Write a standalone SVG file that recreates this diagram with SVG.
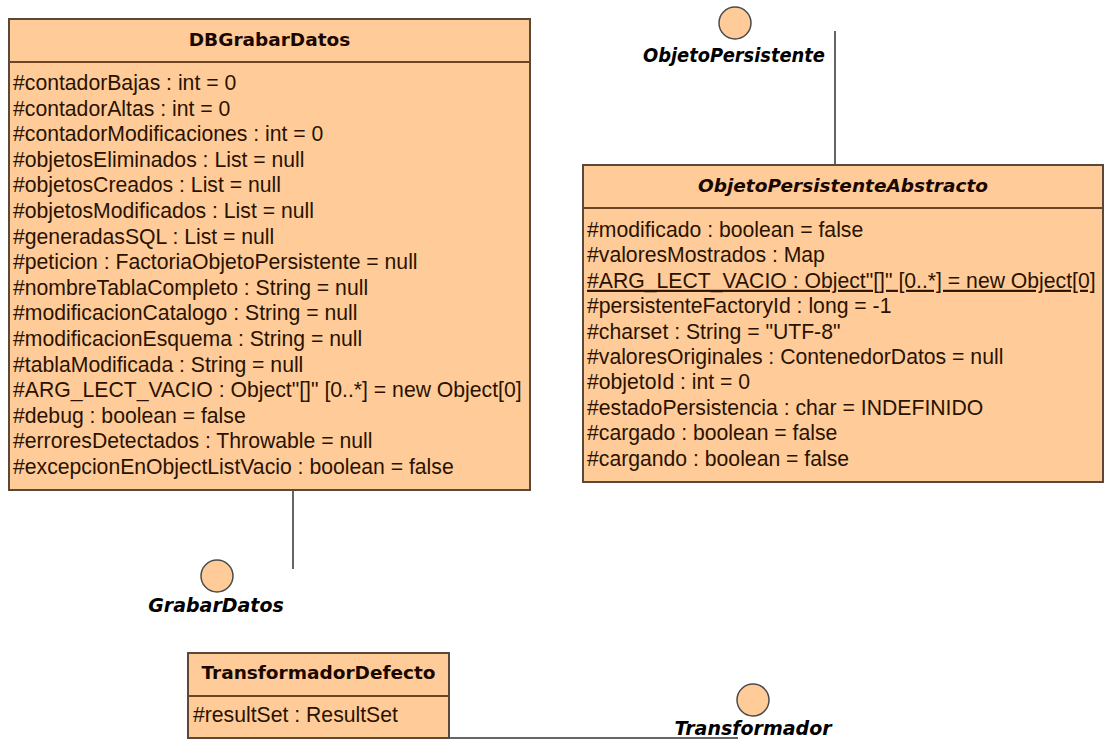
<svg xmlns="http://www.w3.org/2000/svg" width="1107" height="740" viewBox="0 0 1107 740">
  <style>
    .box { fill: #FFCC99; stroke: #5a4838; stroke-width: 2; }
    .sep { stroke: #6b4526; stroke-width: 2; }
    .title { font-family: "DejaVu Sans", sans-serif; font-weight: bold; font-size: 18.5px; fill: #1a0800; text-anchor: middle; }
    .ititle { font-style: italic; }
    .attr { font-family: "Liberation Sans", Arial, sans-serif; font-size: 21.2px; fill: #2a1200; }
    .iface { fill: #FFCC99; stroke: #4a4a4a; stroke-width: 1.5; }
    .ilabel { font-family: "DejaVu Sans", sans-serif; font-weight: bold; font-style: italic; font-size: 19px; fill: #000; text-anchor: middle; }
    .link { stroke: #333; stroke-width: 1.5; fill: none; }
  </style>
  <rect width="1107" height="740" fill="#fff"/>

  <!-- connectors -->
  <g id="connectors">
    <line class="link" x1="293" y1="490" x2="293" y2="569"/>
    <line class="link" x1="835" y1="31" x2="835" y2="165"/>
    <line class="link" x1="449" y1="738" x2="738" y2="738"/>
  </g>

  <!-- class DBGrabarDatos -->
  <g id="DBGrabarDatos">
    <rect class="box" x="9" y="19" width="521" height="471"/>
    <line class="sep" x1="9" y1="62" x2="530" y2="62"/>
    <text class="title" x="269.5" y="46">DBGrabarDatos</text>
    <g class="attr">
      <text x="13" y="90">#contadorBajas : int = 0</text>
      <text x="13" y="115.6">#contadorAltas : int = 0</text>
      <text x="13" y="141.2">#contadorModificaciones : int = 0</text>
      <text x="13" y="166.8">#objetosEliminados : List = null</text>
      <text x="13" y="192.4">#objetosCreados : List = null</text>
      <text x="13" y="218">#objetosModificados : List = null</text>
      <text x="13" y="243.6">#generadasSQL : List = null</text>
      <text x="13" y="269.2">#peticion : FactoriaObjetoPersistente = null</text>
      <text x="13" y="294.8">#nombreTablaCompleto : String = null</text>
      <text x="13" y="320.4">#modificacionCatalogo : String = null</text>
      <text x="13" y="346">#modificacionEsquema : String = null</text>
      <text x="13" y="371.6">#tablaModificada : String = null</text>
      <text x="13" y="397.2">#ARG_LECT_VACIO : Object"[]" [0..*] = new Object[0]</text>
      <text x="13" y="422.8">#debug : boolean = false</text>
      <text x="13" y="448.4">#erroresDetectados : Throwable = null</text>
      <text x="13" y="474">#excepcionEnObjectListVacio : boolean = false</text>
    </g>
  </g>

  <!-- abstract class ObjetoPersistenteAbstracto -->
  <g id="ObjetoPersistenteAbstracto">
    <rect class="box" x="583" y="165" width="520" height="317"/>
    <line class="sep" x1="583" y1="208" x2="1103" y2="208"/>
    <text class="title ititle" x="843" y="192">ObjetoPersistenteAbstracto</text>
    <g class="attr">
      <text x="587" y="237">#modificado : boolean = false</text>
      <text x="587" y="262.4">#valoresMostrados : Map</text>
      <text x="587" y="287.8" text-decoration="underline">#ARG_LECT_VACIO : Object"[]" [0..*] = new Object[0]</text>
      <text x="587" y="313.2">#persistenteFactoryId : long = -1</text>
      <text x="587" y="338.6">#charset : String = "UTF-8"</text>
      <text x="587" y="364">#valoresOriginales : ContenedorDatos = null</text>
      <text x="587" y="389.4">#objetoId : int = 0</text>
      <text x="587" y="414.8">#estadoPersistencia : char = INDEFINIDO</text>
      <text x="587" y="440.2">#cargado : boolean = false</text>
      <text x="587" y="465.6">#cargando : boolean = false</text>
    </g>
  </g>

  <!-- class TransformadorDefecto -->
  <g id="TransformadorDefecto">
    <rect class="box" x="188" y="653" width="261" height="85"/>
    <line class="sep" x1="188" y1="696" x2="449" y2="696"/>
    <text class="title" x="318.5" y="679">TransformadorDefecto</text>
    <text class="attr" x="193" y="722">#resultSet : ResultSet</text>
  </g>

  <!-- interface ObjetoPersistente -->
  <g id="ObjetoPersistente">
    <circle class="iface" cx="735" cy="23" r="16"/>
    <text class="ilabel" x="734" y="62" textLength="182" lengthAdjust="spacingAndGlyphs">ObjetoPersistente</text>
  </g>

  <!-- interface GrabarDatos -->
  <g id="GrabarDatos">
    <circle class="iface" cx="217" cy="576" r="16"/>
    <text class="ilabel" x="216" y="612">GrabarDatos</text>
  </g>

  <!-- interface Transformador -->
  <g id="Transformador">
    <circle class="iface" cx="753" cy="700" r="16"/>
    <text class="ilabel" x="753" y="735">Transformador</text>
  </g>
</svg>
